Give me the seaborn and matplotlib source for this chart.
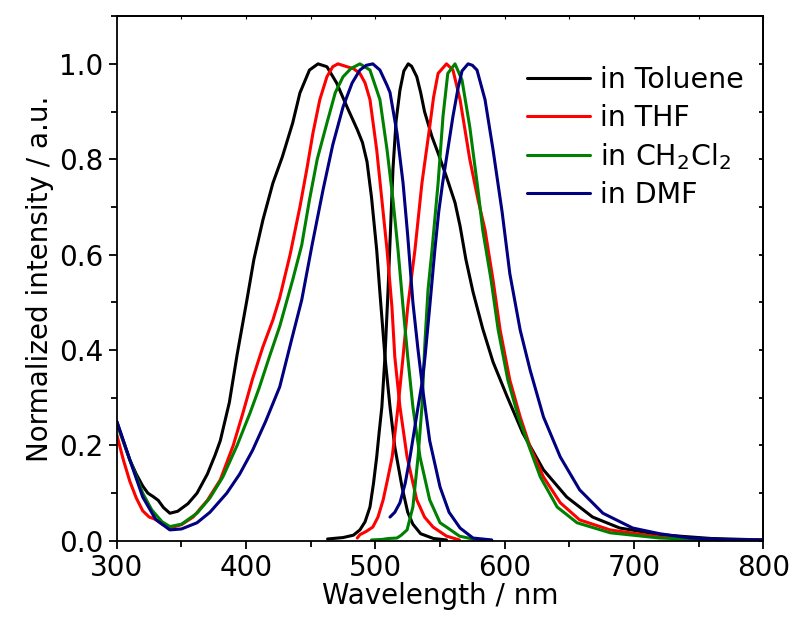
import matplotlib
matplotlib.use("Agg")
import matplotlib.pyplot as plt
from matplotlib.ticker import MultipleLocator
import seaborn as sns

# absorption (left) and emission (right) spectra
tol_abs_x = [300, 305, 310, 315, 320, 324, 328, 332, 336, 341, 347, 355, 362, 370, 376, 380, 387, 393, 400.6, 406,
             413, 420.7, 428, 436, 441.6, 449, 455.6, 462.5, 470, 478, 486, 490, 493.5, 497, 501, 503.5, 507.4,
             511.3, 515, 520.6, 525, 529, 535, 545, 555]
tol_abs_y = [0.25, 0.21, 0.17, 0.14, 0.115, 0.10, 0.093, 0.085, 0.07, 0.058, 0.062, 0.078, 0.10, 0.14, 0.18, 0.21,
             0.29, 0.39, 0.505, 0.59, 0.673, 0.75, 0.805, 0.876, 0.939, 0.987, 1.0, 0.994, 0.96, 0.91, 0.862, 0.835,
             0.795, 0.72, 0.61, 0.52, 0.386, 0.281, 0.197, 0.113, 0.06, 0.035, 0.015, 0.005, 0.002]
tol_em_x = [463, 475, 483, 488, 492, 495.8, 498.5, 501, 503, 505, 507.4, 509.7, 511.5, 513.6, 516, 519, 522, 525.4,
            528, 532, 535, 538, 543.8, 548.5, 555, 561.6, 565.5, 570, 575.5, 583, 591, 602, 614, 630, 648, 668, 689,
            720, 760, 800]
tol_em_y = [0.004, 0.007, 0.012, 0.023, 0.04, 0.071, 0.12, 0.176, 0.23, 0.281, 0.386, 0.52, 0.64, 0.78, 0.88, 0.945,
            0.985, 1.0, 0.995, 0.973, 0.94, 0.90, 0.847, 0.813, 0.763, 0.709, 0.66, 0.59, 0.522, 0.445, 0.375,
            0.302, 0.226, 0.149, 0.092, 0.05, 0.027, 0.013, 0.005, 0.002]

thf_abs_x = [300, 305, 310, 315, 320, 325, 330, 335, 341, 350, 359, 370, 380, 390, 397.5, 405, 413, 420.7, 426, 434,
             441.6, 447, 451.7, 457, 462.5, 467, 471, 478, 483, 488, 492, 495.8, 501, 505, 509, 512.8, 515, 519,
             524.5, 532, 538, 544.6, 555, 565]
thf_abs_y = [0.222, 0.17, 0.125, 0.09, 0.063, 0.05, 0.045, 0.035, 0.027, 0.034, 0.05, 0.085, 0.128, 0.20, 0.268,
             0.34, 0.407, 0.463, 0.51, 0.60, 0.70, 0.78, 0.855, 0.925, 0.973, 0.994, 1.0, 0.994, 0.99, 0.98, 0.96,
             0.925, 0.82, 0.715, 0.61, 0.49, 0.386, 0.281, 0.176, 0.086, 0.05, 0.029, 0.01, 0.002]
thf_em_x = [486, 488, 493, 498, 502, 506, 509.5, 513, 517.5, 521.4, 525, 530.6, 536, 542, 545, 548.5, 555, 560,
            565.5, 573, 579.4, 584.8, 591, 596.5, 604, 612, 619.7, 630, 643, 658, 681.6, 720, 760, 800]
thf_em_y = [0.006, 0.013, 0.02, 0.029, 0.05, 0.086, 0.13, 0.176, 0.281, 0.386, 0.49, 0.61, 0.75, 0.868, 0.93, 0.98,
            1.0, 0.987, 0.925, 0.80, 0.715, 0.652, 0.547, 0.442, 0.337, 0.26, 0.197, 0.134, 0.08, 0.044, 0.023,
            0.008, 0.003, 0.001]

dcm_abs_x = [300, 310, 320, 327, 335, 341, 350, 362, 372, 382, 393, 403, 410, 418, 426, 436, 443, 449, 455, 462.5,
             469, 475, 481, 488, 495.8, 503.5, 509, 513.6, 517.5, 521.4, 525, 529, 534.5, 542, 550, 555, 565,
             578.6, 590]
dcm_abs_y = [0.245, 0.17, 0.10, 0.065, 0.04, 0.03, 0.035, 0.058, 0.09, 0.134, 0.20, 0.268, 0.32, 0.386, 0.45,
             0.547, 0.62, 0.715, 0.80, 0.876, 0.94, 0.973, 0.99, 1.0, 0.987, 0.925, 0.82, 0.715, 0.61, 0.49, 0.386,
             0.281, 0.176, 0.086, 0.038, 0.029, 0.01, 0.002, 0.001]
dcm_em_x = [497, 505, 510, 516.7, 520, 524.5, 529, 533, 536, 538.4, 540.7, 543.8, 548.5, 552.3, 556, 561.6, 567,
            573, 579.4, 583, 589.5, 595, 602.5, 610.6, 619, 627.6, 640.6, 656, 681.6, 720, 760, 800]
dcm_em_y = [0.002, 0.003, 0.005, 0.006, 0.012, 0.023, 0.071, 0.176, 0.281, 0.42, 0.526, 0.61, 0.75, 0.89, 0.98,
            1.0, 0.966, 0.868, 0.735, 0.652, 0.547, 0.442, 0.337, 0.26, 0.197, 0.134, 0.071, 0.038, 0.017, 0.006,
            0.002, 0.001]

dmf_abs_x = [300, 310, 320, 330, 341, 350, 362, 372, 385, 395, 405, 415, 426, 435, 443, 451, 459.5, 467, 475, 482,
             488, 493, 498, 503.5, 509, 511.3, 516.7, 521.4, 525, 529, 533, 537, 542, 550, 557, 565.5, 575.5, 590]
dmf_abs_y = [0.25, 0.17, 0.092, 0.045, 0.023, 0.025, 0.038, 0.06, 0.10, 0.14, 0.19, 0.25, 0.323, 0.42, 0.505,
             0.62, 0.736, 0.83, 0.91, 0.96, 0.987, 0.997, 1.0, 0.987, 0.955, 0.94, 0.855, 0.75, 0.64, 0.50, 0.40,
             0.31, 0.21, 0.113, 0.06, 0.027, 0.006, 0.002]
dmf_em_x = [511.3, 515, 519, 523, 526.8, 530, 533, 536, 538.4, 542, 546, 549, 552, 556, 560, 564, 567, 571.7, 575,
            578.6, 584.8, 591, 598, 604, 612, 619.7, 630, 643, 658, 676, 699, 720, 743.5, 770, 800]
dmf_em_y = [0.05, 0.06, 0.08, 0.12, 0.176, 0.23, 0.281, 0.33, 0.386, 0.49, 0.61, 0.69, 0.75, 0.82, 0.89, 0.95,
            0.985, 1.0, 0.997, 0.987, 0.925, 0.82, 0.69, 0.56, 0.442, 0.358, 0.26, 0.176, 0.107, 0.058, 0.027,
            0.015, 0.006, 0.003, 0.002]

labels = ["in Toluene", "in THF", r"in CH$_\mathregular{2}$Cl$_\mathregular{2}$", "in DMF"]
colors = ["black", "#ff0000", "#008000", "#000080"]

sns.set_style("ticks")
plt.rcParams["font.family"] = ["DejaVu Sans"]
plt.rcParams.update({
    "axes.linewidth": 1.3,
    "axes.edgecolor": "black",
    "axes.labelcolor": "black",
    "text.color": "black",
    "xtick.color": "black",
    "ytick.color": "black",
})

fig = plt.figure(figsize=(7.95, 6.21), dpi=100)
ax = fig.add_axes([0.147, 0.129, 0.813, 0.845])

curves = [
    (tol_abs_x, tol_abs_y, tol_em_x, tol_em_y),
    (thf_abs_x, thf_abs_y, thf_em_x, thf_em_y),
    (dcm_abs_x, dcm_abs_y, dcm_em_x, dcm_em_y),
    (dmf_abs_x, dmf_abs_y, dmf_em_x, dmf_em_y),
]
for (ax_x, ax_y, em_x, em_y), lab, col in zip(curves, labels, colors):
    sns.lineplot(x=ax_x, y=ax_y, color=col, lw=2.2, label=lab, ax=ax, estimator=None, sort=False)
    sns.lineplot(x=em_x, y=em_y, color=col, lw=2.2, ax=ax, estimator=None, sort=False)

ax.set_xlim(300, 800)
ax.set_ylim(0, 1.1)
ax.xaxis.set_major_locator(MultipleLocator(100))
ax.xaxis.set_minor_locator(MultipleLocator(50))
ax.yaxis.set_major_locator(MultipleLocator(0.2))
ax.yaxis.set_minor_locator(MultipleLocator(0.1))
ax.yaxis.set_major_formatter(plt.FormatStrFormatter("%.1f"))
ax.tick_params(which="major", direction="out", length=6, width=1.3, labelsize=20)
ax.tick_params(which="minor", direction="out", length=4, width=1.3)

top = ax.secondary_xaxis("top")
top.xaxis.set_major_locator(MultipleLocator(50))
top.tick_params(direction="in", length=2, width=0.8, labeltop=False)
right = ax.secondary_yaxis("right")
right.yaxis.set_major_locator(MultipleLocator(0.1))
right.tick_params(direction="in", length=3, width=1.3, labelright=False)

ax.set_xlabel("Wavelength / nm", fontsize=20, labelpad=0)
ax.set_ylabel("Normalized intensity / a.u.", fontsize=20, labelpad=4)

ax.legend(loc="upper left", bbox_to_anchor=(0.663, 0.893), bbox_transform=fig.transFigure,
          frameon=False, fontsize=20.5, handlelength=2.2, handletextpad=0.35, labelspacing=0.33,
          borderpad=0, borderaxespad=0)

fig.savefig("out.png", dpi=100)
